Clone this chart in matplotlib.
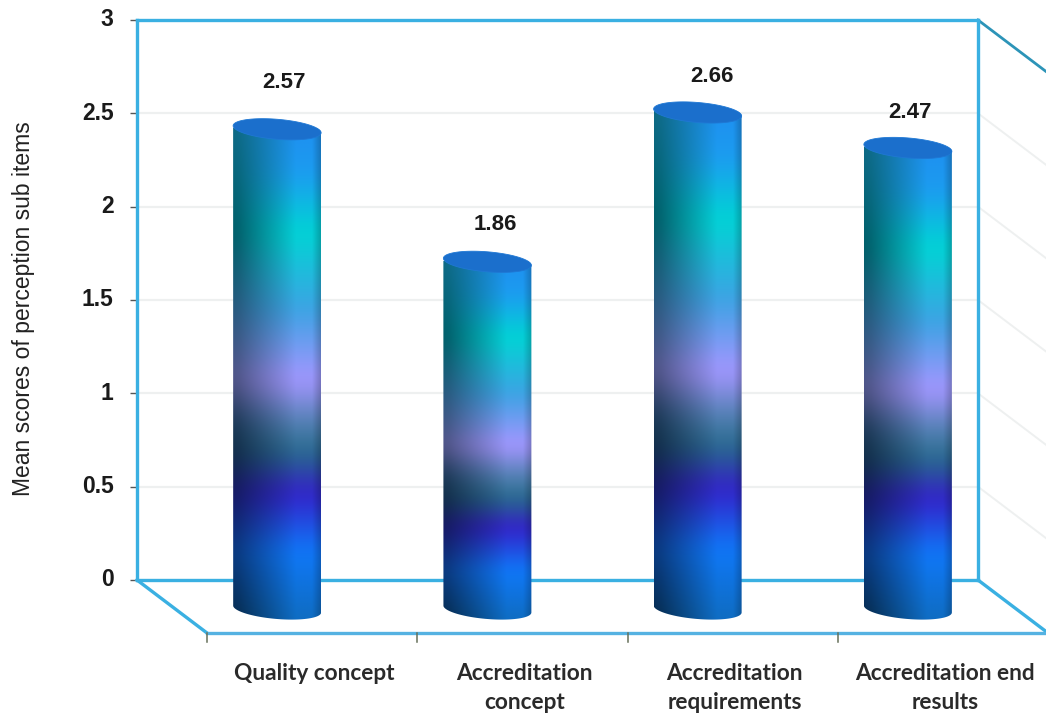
import numpy as np
import matplotlib
matplotlib.use("Agg")
import matplotlib.pyplot as plt
from matplotlib.colors import LinearSegmentedColormap
from matplotlib.patches import Polygon
from matplotlib.transforms import Affine2D

categories = ["Quality concept", "Accreditation\nconcept",
              "Accreditation\nrequirements", "Accreditation end\nresults"]
values = [2.57, 1.86, 2.66, 2.47]
y_ticks = [0, 0.5, 1, 1.5, 2, 2.5, 3]
y_tick_labels = ["0", "0.5", "1", "1.5", "2", "2.5", "3"]

# label nudges in pixels, the value labels are not centred on their bars
label_dx = [7, 8, 14, 2]
label_dy = [47, 37, 36, 35]

WALL = "#3ab0e2"
GRID = "#eef0f0"
W, H = 1046, 715

# colours down the cylinder, 0 = top of bar, 1 = bottom
lit_cmap = LinearSegmentedColormap.from_list("lit", [
    (0.00, "#1e90f0"), (0.09, "#1c9cf0"), (0.21, "#00d4d4"), (0.37, "#3ea2e4"),
    (0.51, "#a496ff"), (0.60, "#4f7fb0"), (0.66, "#27688c"), (0.74, "#3420c8"),
    (0.86, "#0f78f8"), (1.00, "#0f6cc0"),
])
# same bands on the shadow side of the cylinder
dark_cmap = LinearSegmentedColormap.from_list("dark", [
    (0.00, "#0e6a86"), (0.21, "#00606a"), (0.37, "#2a5a80"), (0.51, "#55568c"),
    (0.60, "#1c3a58"), (0.66, "#12304a"), (0.74, "#181868"), (0.86, "#0a3c84"),
    (1.00, "#062c4e"),
])


def px(dx, dy):
    # shift in screen pixels, y pointing down
    return Affine2D().translate(dx, -dy)


def depth_line(ax, x, y, color, lw):
    # edge running from the back wall to the front of the floor
    p = ax.transData.transform((x, y))
    ax.plot([p[0], p[0] + 70], [p[1], p[1] - 53], transform=None,
            color=color, lw=lw, clip_on=False)


def smooth(col, n=41):
    # soften the colour bands a little
    kernel = np.hanning(n)
    kernel = kernel / kernel.sum()
    pad = np.pad(col, ((n // 2, n // 2), (0, 0)), mode="edge")
    return np.column_stack([np.convolve(pad[:, k], kernel, mode="valid") for k in range(3)])


fig = plt.figure(figsize=(W / 100, H / 100), dpi=100, facecolor="white")
ax = fig.add_axes([137 / W, 1 - 580 / H, (978 - 137) / W, (580 - 20) / H])
ax.set_xlim(0, 4)
ax.set_ylim(0, 3)
ax.set_facecolor("white")

front = ax.transData + px(70, 53)
middle = ax.transData + px(35, 29)

# back wall
for s in ax.spines.values():
    s.set_color(WALL)
    s.set_linewidth(2.4)
ax.set_xticks([])
ax.set_yticks(y_ticks)
ax.set_yticklabels(y_tick_labels, fontfamily="Liberation Sans", fontweight="bold",
                   fontsize=16.5, color="#1a1a1a", va="center")
ax.tick_params(axis="y", length=5, width=1, color="#555555", pad=12)
ax.set_axisbelow(True)
ax.grid(axis="y", color=GRID, lw=1.6)

# right wall and floor edges
for v in y_ticks[1:-1]:
    depth_line(ax, 4, v, GRID, 1.4)
depth_line(ax, 4, 0, WALL, 2.4)
depth_line(ax, 4, 3, "#2c94b8", 2.0)
depth_line(ax, 0, 0, WALL, 2.4)
ax.plot([0, 4], [0, 0], transform=front, color="#55b2e2", lw=2.4, clip_on=False)
for i in range(4):
    p = front.transform((i, 0))
    ax.plot([p[0], p[0]], [p[1], p[1] - 9], transform=None, color="#66705a",
            lw=1.1, clip_on=False)

# cylinders
bar_w = 88 / (841 / 4)
b = 10 / (560 / 3)      # ellipse half height in data units
tilt = 3.5 / (560 / 3)  # the ellipses lean down to the right
t = np.linspace(0, 2 * np.pi, 121)
upper = t <= np.pi

# gradient image: shadow on the left, lit around 3/4 of the width
rows = np.linspace(0, 1, 400)
lit = smooth(lit_cmap(rows)[:, :3])
dark = smooth(dark_cmap(rows)[:, :3])
shade_x = np.linspace(0, 1, 200)
mix = np.interp(shade_x, [0, 0.08, 0.72, 1], [0, 0.06, 1, 1])[None, :, None]
edge = np.interp(shade_x, [0, 0.9, 1], [1, 1, 0.78])[None, :, None]
img = (dark[:, None, :] * (1 - mix) + lit[:, None, :] * mix) * edge

for i, val in enumerate(values):
    cx = i + 0.5
    ex = cx + 0.5 * bar_w * np.cos(t)
    ey = b * np.sin(t) - tilt * np.cos(t)

    # body outline: top half of the cap ellipse, bottom half of the base ellipse
    outline = np.vstack([np.column_stack([ex[upper], val + ey[upper]]),
                         np.column_stack([ex[~upper], ey[~upper]])])
    body = Polygon(outline, closed=True, transform=middle, fc="none", ec="none", clip_on=False)
    ax.add_patch(body)

    im = ax.imshow(img, extent=(cx - bar_w / 2, cx + bar_w / 2, -b - tilt, val),
                   aspect="auto", transform=middle, interpolation="bilinear", zorder=3)
    im.set_clip_box(fig.bbox)
    im.set_clip_path(body)

    # cap
    ax.add_patch(Polygon(np.column_stack([ex, val + ey]), closed=True, transform=middle,
                         fc="#1b6fcc", ec="#1f78d4", lw=0.6, zorder=4, clip_on=False))

    p = middle.transform((cx, val))
    ax.text(p[0] + label_dx[i], p[1] + label_dy[i], f"{val:.2f}", transform=None,
            ha="center", va="center", fontfamily="Liberation Sans", fontweight="bold",
            fontsize=16, color="#1a1a1a", zorder=5)

    q = front.transform((i + 0.5, 0))
    ax.text(q[0] + 2, q[1] - 30, categories[i], transform=None, ha="center", va="top",
            fontfamily="Lato", fontweight="bold", fontsize=16.3, color="#2a2a2a",
            linespacing=1.47, clip_on=False)

ax.set_xlim(0, 4)
ax.set_ylim(0, 3)

fig.text(24 / W, 1 - 309 / H, "Mean scores of perception sub items", rotation=90,
         ha="center", va="center", fontfamily="Liberation Sans", fontsize=16.5,
         color="#222222")

fig.savefig("out.png", dpi=100, facecolor="white")
